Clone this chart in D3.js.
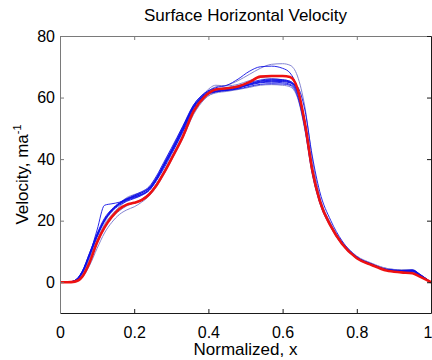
<!DOCTYPE html>
<html>
<head>
<meta charset="utf-8">
<script src="https://cdn.jsdelivr.net/npm/d3@7"></script>
<style>
body { margin: 0; background: #fff; }
text { font-family: "Liberation Sans", Arial, Helvetica, sans-serif; }
</style>
</head>
<body>
<svg id="chart" width="432" height="360"></svg>
<script>
// normalized x positions shared by every profile
var xs = [0, 0.02, 0.04, 0.06, 0.08, 0.1, 0.12, 0.14, 0.16, 0.18, 0.2, 0.22, 0.24, 0.26, 0.28, 0.3, 0.33, 0.36, 0.39, 0.42,
          0.45, 0.48, 0.51, 0.54, 0.57, 0.6, 0.62, 0.64, 0.66, 0.68, 0.7, 0.73, 0.76, 0.8, 0.84, 0.88, 0.92, 0.95, 0.97, 1.0];

// mean profile (red)
var meanVel = [0, 0, 0.2, 1.8, 6.5, 13, 17.8, 21.3, 23.8, 25.2, 25.8, 26.7, 28.5, 31.5, 35.5, 40, 47, 55.5, 60.3, 62.6,
               63, 63.6, 65, 66.8, 67, 67, 66.7, 63, 51.7, 36.5, 26.5, 18.2, 12.5, 7.8, 5.6, 3.8, 3.2, 2.9, 1.8, 0];

// individual profiles (blue)
var run1 = [0, 0, 0.5, 3, 9, 17, 25, 25.5, 26, 27, 27.8, 28.5, 29.8, 33, 37, 41.5, 48.5, 56, 60.5, 62,
            62.3, 63, 64.3, 65.3, 65.6, 65.5, 65, 62, 52, 37, 27, 18.5, 12.8, 8, 5.8, 4.2, 3.8, 3.7, 2.3, 0];
var run2 = [0, 0, 0.3, 2.5, 8, 14.5, 19.5, 23, 25.5, 27.5, 28.5, 29.3, 30.5, 33.5, 37.5, 42, 49.5, 57, 61, 63.5,
            64, 65.5, 67.5, 69.5, 70.8, 71, 70.5, 67, 57, 40, 28, 19, 13, 8.2, 6, 4.5, 4, 3.9, 2.5, 0];
var run3 = [0, 0, 0.4, 3, 8.5, 15, 20, 23.5, 25.5, 27, 28, 29, 30.5, 33.5, 38, 42.5, 50, 57.5, 61.5, 63.2,
            64, 66, 68.5, 70, 70.2, 69.5, 68, 63, 52, 37, 27, 18.5, 12.8, 8, 5.8, 4, 3.5, 3.4, 2.2, 0];
var run4 = [0, 0, 0.1, 1.5, 5.5, 11, 16, 19.5, 22, 23.5, 24.5, 26, 28, 31, 35, 39.5, 46.5, 54.5, 59.5, 61.8,
            62.5, 63, 64.3, 65, 65.3, 65.2, 64.8, 61, 50, 35.5, 26, 18, 12.3, 7.8, 5.7, 4, 3.6, 3.5, 2.2, 0];
var run5 = [0, 0, 0.6, 3.5, 9.5, 15.5, 20.5, 23.5, 25.5, 26.8, 27.6, 28.6, 30.2, 33.8, 38.2, 42.6, 49.5, 57, 60.8, 62.2,
            62.6, 63.3, 64, 64.8, 65, 64.8, 64.3, 61.5, 51, 36, 26.5, 18.3, 12.6, 8, 5.8, 4, 3.6, 3.8, 2.4, 0];
var run6 = [0, 0, 0.4, 3.2, 9, 15, 20, 23, 25, 26.3, 27.2, 28.2, 29.8, 33.2, 37.6, 42, 49, 56.5, 60.5, 61.8,
            62.3, 62.8, 63.6, 64.3, 64.5, 64.4, 64, 60.5, 50, 35.5, 26, 18, 12.4, 7.9, 5.6, 3.9, 3.5, 3.6, 2.3, 0];
var run7 = [0, 0, 0.5, 3.4, 9.2, 15.2, 20.2, 23.4, 25.6, 27, 28, 29, 30.6, 34, 38.5, 43, 50, 57.2, 61, 62.7,
            63.2, 63.8, 64.8, 65.7, 66, 65.8, 65.3, 62.5, 52.5, 37.5, 27, 18.6, 12.8, 8.1, 5.9, 4.1, 3.7, 3.9, 2.5, 0];
var run8 = [0, 0, 0.3, 2.6, 7.8, 13.8, 18.8, 22, 24.5, 26.5, 28, 29.2, 30.8, 33.8, 37.8, 42, 49, 56.8, 61.5, 64,
            63.8, 64.3, 65.5, 66.5, 66.2, 65.8, 65.3, 62.3, 52, 37, 27, 18.8, 13.2, 8.5, 6.2, 4.5, 4, 4.1, 2.6, 0];
var run9 = [0, 0, 0.5, 3.3, 9, 15, 20, 23.2, 25.3, 26.6, 27.4, 28.4, 30, 33.6, 38, 42.3, 49.3, 56.8, 60.6, 62,
            62.5, 63.2, 64.2, 65, 65.3, 65.2, 64.8, 63.5, 56, 41, 29.5, 20, 13.5, 8.3, 5.9, 4.2, 3.8, 4, 2.6, 0];
var run10 = [0, 0, 0.2, 2, 6.5, 12.5, 17.5, 21, 23.2, 24.8, 25.8, 27, 28.8, 32, 36, 40.5, 47.5, 55, 59.8, 61.5,
             62, 62.6, 63.3, 64, 64.2, 64, 63.5, 60, 49.5, 35, 25.8, 17.8, 12.2, 7.7, 5.5, 3.9, 3.4, 3.4, 2.1, 0];
var run11 = [0, 0, 0.6, 3.6, 9.6, 15.8, 20.8, 23.8, 25.8, 27.2, 28.3, 29.4, 31, 34.5, 39, 43.5, 50.5, 57.6, 61.3, 62.8,
             63, 63.5, 64.5, 65.4, 65.8, 65.6, 65, 62, 51.5, 36.8, 26.8, 18.4, 12.7, 8, 5.8, 4.1, 3.7, 3.8, 2.4, 0];

var lightRuns = [run2, run4, run8, run10];
var darkRuns = [run1, run3, run5, run6, run7, run9, run11];

var xTicks = [0, 0.2, 0.4, 0.6, 0.8, 1];
var xTickLabels = ["0", "0.2", "0.4", "0.6", "0.8", "1"];
var yTicks = [0, 20, 40, 60, 80];
var yTickLabels = ["0", "20", "40", "60", "80"];

var svg = d3.select("#chart");
var margin = {top: 36, right: 1, bottom: 47, left: 60},
    width = +svg.attr("width") - margin.left - margin.right,
    height = +svg.attr("height") - margin.top - margin.bottom;

var x = d3.scaleLinear().domain([0, 1]).range([margin.left, margin.left + width]);
var y = d3.scaleLinear().domain([-10, 80]).range([margin.top + height, margin.top]);

var line = d3.line()
    .x((d, i) => x(xs[i]))
    .y(d => y(d))
    .curve(d3.curveMonotoneX);

svg.selectAll(".light")
    .data(lightRuns)
    .enter().append("path")
    .attr("class", "light")
    .attr("d", line)
    .attr("fill", "none")
    .attr("stroke", "#8383d2")
    .attr("stroke-width", 1);

svg.selectAll(".dark")
    .data(darkRuns)
    .enter().append("path")
    .attr("class", "dark")
    .attr("d", line)
    .attr("fill", "none")
    .attr("stroke", "#1010e6")
    .attr("stroke-width", 0.9);

svg.append("path")
    .datum(meanVel)
    .attr("d", line)
    .attr("fill", "none")
    .attr("stroke", "#ee1111")
    .attr("stroke-width", 2.6)
    .attr("stroke-linejoin", "round");

// axes box, ticks pointing in
function styleAxis(g, col) {
    g.attr("font-size", 16)
     .attr("font-family", '"Liberation Sans", Arial, sans-serif')
     .attr("color", col);
    g.selectAll("text").attr("fill", "#000");
}

svg.append("g")
    .attr("transform", `translate(0,${margin.top + height})`)
    .call(d3.axisBottom(x).tickValues(xTicks).tickFormat((d, i) => xTickLabels[i])
        .tickSizeInner(-4).tickSizeOuter(0).tickPadding(14))
    .call(g => styleAxis(g, "#1a1a1a"))
    // last label would run off the right edge
    .call(g => g.selectAll(".tick:last-of-type text").attr("text-anchor", "end").attr("x", 1));

svg.append("g")
    .attr("transform", `translate(${margin.left},0)`)
    .call(d3.axisLeft(y).tickValues(yTicks).tickFormat((d, i) => yTickLabels[i])
        .tickSizeInner(-4).tickSizeOuter(0).tickPadding(5))
    .call(g => styleAxis(g, "#7a7a7a"));

svg.append("g")
    .attr("transform", `translate(0,${margin.top})`)
    .call(d3.axisTop(x).tickValues(xTicks).tickFormat("")
        .tickSizeInner(-4).tickSizeOuter(0))
    .call(g => styleAxis(g, "#7a7a7a"));

svg.append("g")
    .attr("transform", `translate(${margin.left + width},0)`)
    .call(d3.axisRight(y).tickValues(yTicks).tickFormat("")
        .tickSizeInner(-4).tickSizeOuter(0))
    .call(g => styleAxis(g, "#1a1a1a"));

// titles
svg.append("text")
    .attr("x", margin.left + width / 2)
    .attr("y", 21)
    .attr("text-anchor", "middle")
    .attr("font-size", 17)
    .text("Surface Horizontal Velocity");

svg.append("text")
    .attr("x", margin.left + width / 2)
    .attr("y", 355)
    .attr("text-anchor", "middle")
    .attr("font-size", 17)
    .text("Normalized, x");

var ylab = svg.append("text")
    .attr("transform", `translate(28,${margin.top + height / 2}) rotate(-90)`)
    .attr("text-anchor", "middle")
    .attr("font-size", 17);
ylab.append("tspan").text("Velocity, ma");
ylab.append("tspan").attr("dy", -7).attr("font-size", 11).text("-1");
</script>
</body>
</html>
